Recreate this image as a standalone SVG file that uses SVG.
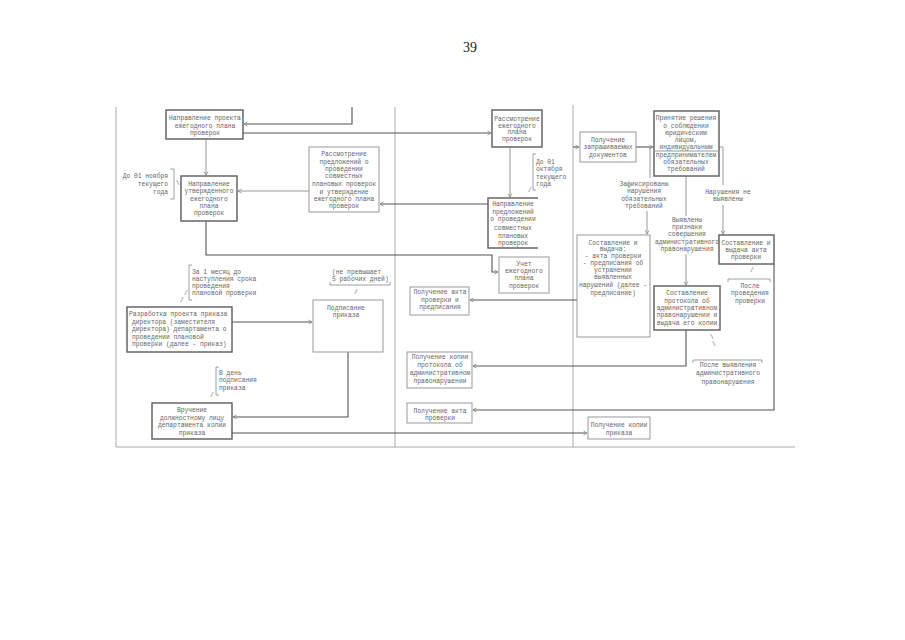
<svg xmlns="http://www.w3.org/2000/svg" width="905" height="640" viewBox="0 0 905 640">
<style>
text{font-family:"Liberation Mono","DejaVu Sans Mono",monospace;font-size:6.3px;fill:#666}
.c{text-anchor:middle}
.e{text-anchor:end}
.pg{font-family:"Liberation Serif",serif;font-size:14px;fill:#222;text-anchor:middle}
.bx{fill:#fff;stroke:#666;stroke-width:1.5}
.lb{fill:#fff;stroke:#999;stroke-width:1}
.fr{fill:none;stroke:#aaa;stroke-width:1}
.ln{fill:none;stroke:#555;stroke-width:1.1}
.lg{fill:none;stroke:#999;stroke-width:1}
.br{fill:none;stroke:#888;stroke-width:0.8}
</style>
<defs>
<marker id="a" markerWidth="6" markerHeight="6" refX="5" refY="3" orient="auto" markerUnits="userSpaceOnUse">
<path d="M1.5,1 L5,3 L1.5,5" fill="none" stroke="#888" stroke-width="0.8"/>
</marker>
</defs>
<rect width="905" height="640" fill="#fff"/>
<text class="pg" x="470" y="52">39</text>

<g id="frame">
<path class="fr" d="M116,107 V447 H795"/>
<path class="fr" d="M395,107 V447"/>
<path class="fr" d="M573,105 V447"/>
</g>

<g id="connectors">
<path class="ln" d="M352,107 V124 H244" marker-end="url(#a)"/>
<path class="ln" d="M243,133 H491" marker-end="url(#a)"/>
<path class="lg" d="M206,139 V175" marker-end="url(#a)"/>
<path class="lg" d="M309,191 H238" stroke-width="1.6" marker-end="url(#a)"/>
<path class="ln" d="M488,204 H380" marker-end="url(#a)"/>
<path class="ln" d="M206,221 V255 H492 V272 H498" marker-end="url(#a)"/>
<path class="lg" d="M510,147 V197" marker-end="url(#a)"/>
<path class="ln" d="M573,147 H579" marker-end="url(#a)"/>
<path class="ln" d="M636,147 H653" marker-end="url(#a)"/>
<path class="lg" d="M654,147 H650 V178"/>
<path class="lg" d="M647,211 V234" marker-end="url(#a)"/>
<path class="lg" d="M686,176 V216"/>
<path class="lg" d="M686,254 V285" marker-end="url(#a)"/>
<path class="lg" d="M719,147 H723 V185"/>
<path class="lg" d="M723,205 V234" marker-end="url(#a)"/>
<path class="ln" d="M577,300 H470" marker-end="url(#a)"/>
<path class="ln" d="M686,330 V366 H473" marker-end="url(#a)"/>
<path class="ln" d="M774,264 V410 H473" marker-end="url(#a)"/>
<path class="ln" d="M232,433 H587" marker-end="url(#a)"/>
<path class="ln" d="M232,322 H312" marker-end="url(#a)"/>
<path class="ln" d="M348,352 V417 H233" marker-end="url(#a)"/>
</g>

<g id="n1"><rect class="bx" x="166" y="110" width="77" height="29"/>
<text class="c" x="205" y="120">Направление проекта</text>
<text class="c" x="205" y="128">ежегодного плана</text>
<text class="c" x="205" y="135">проверок</text></g>

<g id="l1"><path class="br" d="M170,169 H174 V199 H170"/><text class="e" x="168" y="178">До 01 ноября</text><text class="e" x="168" y="186">текущего</text><text class="e" x="168" y="194">года</text><text x="176" y="185">\</text></g>

<g id="n2"><rect class="bx" x="181" y="176" width="56" height="45"/>
<text class="c" x="209" y="186">Направление</text>
<text class="c" x="209" y="193">утвержденного</text>
<text class="c" x="209" y="201">ежегодного</text>
<text class="c" x="209" y="208">плана</text>
<text class="c" x="209" y="215">проверок</text></g>

<g id="n3"><rect class="lb" x="309" y="147" width="70" height="65"/>
<text class="c" x="344" y="156">Рассмотрение</text>
<text class="c" x="344" y="164">предложений о</text>
<text class="c" x="344" y="171">проведении</text>
<text class="c" x="344" y="178">совместных</text>
<text class="c" x="344" y="186">плановых проверок</text>
<text class="c" x="344" y="194">и утверждение</text>
<text class="c" x="344" y="201">ежегодного плана</text>
<text class="c" x="344" y="208">проверок</text></g>

<g id="n4"><rect class="bx" x="492" y="110" width="50" height="37"/>
<text class="c" x="517" y="121">Рассмотрение</text>
<text class="c" x="517" y="127.5">ежегодного</text>
<text class="c" x="517" y="134">плана</text>
<text class="c" x="517" y="140.5">проверок</text></g>

<g id="l2"><path class="br" d="M536,154 H533 V190 H536"/><text x="536" y="164">До 01</text><text x="536" y="171">октября</text><text x="536" y="179">текущего</text><text x="536" y="186">года</text><text x="528" y="192">/</text></g>

<g id="n5"><path class="bx" d="M538,198 H488 V248 H538" fill="none"/>
<text class="c" x="513" y="206">Направление</text>
<text class="c" x="513" y="214">предложений</text>
<text class="c" x="513" y="221">о проведении</text>
<text class="c" x="513" y="230">совместных</text>
<text class="c" x="513" y="238">плановых</text>
<text class="c" x="513" y="245">проверок</text></g>

<g id="n6"><rect class="lb" x="499" y="257" width="50" height="36"/>
<text class="c" x="524" y="266">Учет</text>
<text class="c" x="524" y="273">ежегодного</text>
<text class="c" x="524" y="280">плана</text>
<text class="c" x="524" y="288">проверок</text></g>

<g id="n7"><rect class="lb" x="410" y="287" width="59" height="28"/>
<text class="c" x="440" y="294">Получение акта</text>
<text class="c" x="440" y="302">проверки и</text>
<text class="c" x="440" y="309">предписания</text></g>

<g id="n8"><rect class="lb" x="407" y="352" width="65" height="36"/>
<text class="c" x="440" y="359">Получение копии</text>
<text class="c" x="440" y="367">протокола об</text>
<text class="c" x="440" y="375">административном</text>
<text class="c" x="440" y="383">правонарушении</text></g>

<g id="n9"><rect class="lb" x="407" y="403" width="65" height="20"/>
<text class="c" x="440" y="413">Получение акта</text>
<text class="c" x="440" y="420">проверки</text></g>

<g id="n10"><rect class="lb" x="588" y="417" width="62" height="22"/>
<text class="c" x="619" y="427">Получение копии</text>
<text class="c" x="619" y="435">приказа</text></g>

<g id="n11"><rect class="lb" x="580" y="132" width="56" height="30"/>
<text class="c" x="608" y="142">Получение</text>
<text class="c" x="608" y="149">запрашиваемых</text>
<text class="c" x="608" y="157">документов</text></g>

<g id="n12"><rect class="bx" x="654" y="111" width="65" height="65"/>
<path class="lg" d="M654,151 H719"/>
<text class="c" x="686" y="120">Принятие решения</text>
<text class="c" x="686" y="128">о соблюдении</text>
<text class="c" x="686" y="135">юридическим</text>
<text class="c" x="686" y="142">лицом,</text>
<text class="c" x="686" y="149">индивидуальным</text>
<text class="c" x="686" y="157">предпринимателем</text>
<text class="c" x="686" y="164">обязательных</text>
<text class="c" x="686" y="171">требований</text></g>

<g id="l3"><text class="c" x="644" y="186">Зафиксированы</text><text class="c" x="644" y="193">нарушения</text><text class="c" x="644" y="201">обязательных</text><text class="c" x="644" y="208">требований</text></g>
<g id="l4"><text class="c" x="687" y="222">Выявлены</text><text class="c" x="687" y="229">признаки</text><text class="c" x="687" y="236">совершения</text><text class="c" x="687" y="244">административного</text><text class="c" x="687" y="251">правонарушения</text></g>
<g id="l5"><text class="c" x="728" y="194">Нарушения не</text><text class="c" x="728" y="201">выявлены</text></g>

<g id="n13"><rect class="lb" x="577" y="235" width="73" height="102" stroke="#777" stroke-width="1.3"/>
<text class="c" x="613" y="245">Составление и</text>
<text class="c" x="613" y="251">выдача:</text>
<text class="c" x="613" y="258">- акта проверки</text>
<text class="c" x="613" y="265">- предписания об</text>
<text class="c" x="613" y="272">устранении</text>
<text class="c" x="613" y="279">выявленных</text>
<text class="c" x="613" y="287">нарушений (далее -</text>
<text class="c" x="613" y="295">предписание)</text></g>

<g id="n14"><rect class="bx" x="719" y="235" width="55" height="29"/>
<text class="c" x="746" y="245">Составление и</text>
<text class="c" x="746" y="251.5">выдача акта</text>
<text class="c" x="746" y="259">проверки</text></g>

<g id="l6"><text x="750" y="272">/</text><path class="br" d="M728,282 V279 H770 V282"/><text class="c" x="750" y="288">После</text><text class="c" x="750" y="295">проведения</text><text class="c" x="750" y="303">проверки</text></g>

<g id="n15"><rect class="bx" x="654" y="286" width="66" height="44"/>
<text class="c" x="687" y="295">Составление</text>
<text class="c" x="687" y="303">протокола об</text>
<text class="c" x="687" y="310">административном</text>
<text class="c" x="687" y="317">правонарушении и</text>
<text class="c" x="687" y="325">выдача его копии</text></g>

<g id="l7"><text x="710" y="339">\</text><text x="712" y="346">\</text><path class="br" d="M693,363 V360 H762 V363"/><text class="c" x="728" y="367">После выявления</text><text class="c" x="728" y="375">административного</text><text class="c" x="728" y="384">правонарушения</text></g>

<g id="l8"><path class="br" d="M192,265 H189 V300 H192"/><text x="192" y="274">За 1 месяц до</text><text x="192" y="281">наступления срока</text><text x="192" y="288">проведения</text><text x="192" y="295">плановой проверки</text><text x="184" y="295">/</text><text x="180" y="302">/</text></g>

<g id="n16"><rect class="bx" x="127" y="307" width="105" height="45"/>
<text x="129" y="316">Разработка проекта приказа</text>
<text x="132" y="323.5">директора (заместителя</text>
<text x="132" y="331">директора) департамента о</text>
<text x="132" y="338.5">проведении плановой</text>
<text x="132" y="346">проверки (далее - приказ)</text></g>

<g id="l9"><text x="332" y="274">(не превышает</text><text x="332" y="281">5 рабочих дней)</text><path class="br" d="M330,282 V285 H390 V282"/><text x="354" y="294">/</text></g>

<g id="n17"><rect class="lb" x="313" y="300" width="70" height="52"/>
<text class="c" x="346" y="310">Подписание</text>
<text class="c" x="346" y="317">приказа</text></g>

<g id="l10"><path class="br" d="M219,367 H216 V395 H219"/><text x="219" y="375">В день</text><text x="219" y="382">подписания</text><text x="219" y="390">приказа</text><text x="210" y="397">/</text></g>

<g id="n18"><rect class="bx" x="152" y="403" width="80" height="36"/>
<text class="c" x="192" y="412">Вручение</text>
<text class="c" x="192" y="420">должностному лицу</text>
<text class="c" x="192" y="427">департамента копии</text>
<text class="c" x="192" y="435">приказа</text></g>
</svg>
